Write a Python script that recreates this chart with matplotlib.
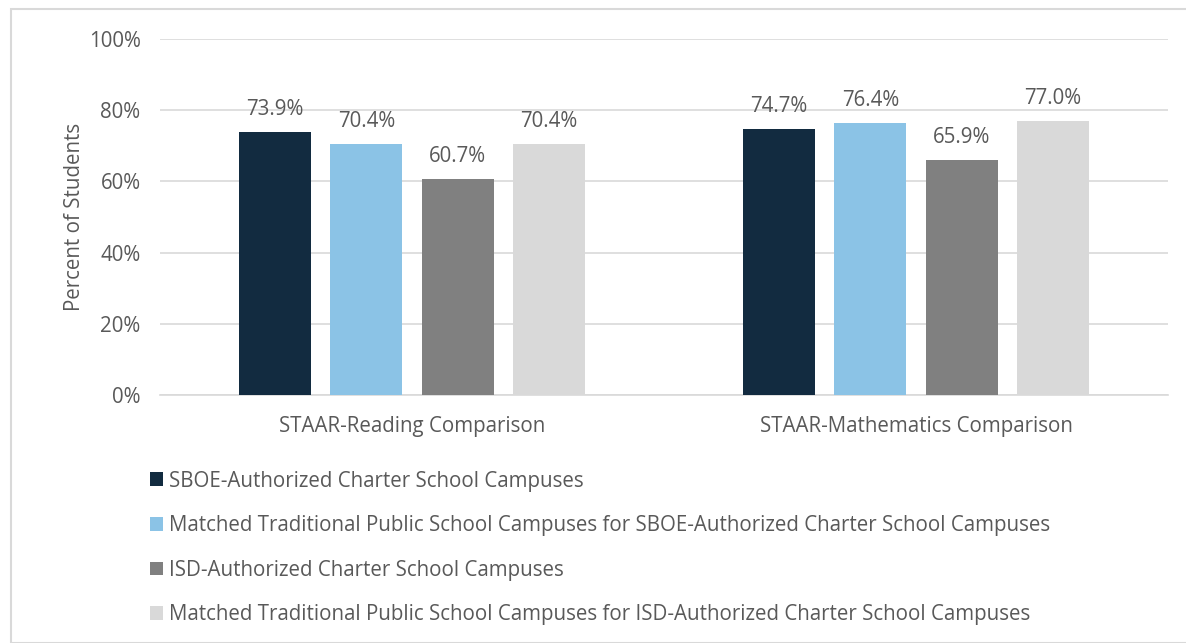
import matplotlib
matplotlib.use("Agg")
import matplotlib.pyplot as plt
from matplotlib.patches import Rectangle, Patch

categories = ["STAAR-Reading Comparison", "STAAR-Mathematics Comparison"]
series = [
    "SBOE-Authorized Charter School Campuses",
    "Matched Traditional Public School Campuses for SBOE-Authorized Charter School Campuses",
    "ISD-Authorized Charter School Campuses",
    "Matched Traditional Public School Campuses for ISD-Authorized Charter School Campuses",
]
sboe = [73.9, 74.7]
matched_sboe = [70.4, 76.4]
isd = [60.7, 65.9]
matched_isd = [70.4, 77.0]
values = [sboe, matched_sboe, isd, matched_isd]
colors = ["#122B40", "#8BC3E6", "#808080", "#D9D9D9"]
yticks = [0, 20, 40, 60, 80, 100]

plt.rcParams['font.family'] = ['Open Sans', 'DejaVu Sans']
txt = "#595959"
fs = 14.8

W, H = 1186, 643
fig = plt.figure(figsize=(W/100, H/100), dpi=100)
fig.patch.set_facecolor("white")
fig.patches.append(Rectangle((11/W, 0), 1.0, 1 - 9/H, transform=fig.transFigure,
                             fill=False, edgecolor="#D9D9D9", linewidth=1.5))

ax = fig.add_axes([160/W, 1 - 395/H, 1008/W, 356/H])
ax.set_xlim(-0.5, 1.5)
ax.set_ylim(0, 100)
width = 0.143
step = 0.181
for i, (vals, c) in enumerate(zip(values, colors)):
    xs = [k + (i - 1.5) * step for k in range(len(categories))]
    bars = ax.bar(xs, vals, width=width, color=c, zorder=3)
    for b, v in zip(bars, vals):
        ax.text(b.get_x() + b.get_width()/2, v + 3.4, f"{v:.1f}%", ha="center", va="bottom",
                fontsize=fs, color=txt)

ax.set_yticks(yticks)
ax.set_yticklabels([f"{t}%" for t in yticks], fontsize=fs, color=txt)
ax.set_xticks(range(len(categories)))
ax.set_xticklabels(categories, fontsize=fs, color=txt)
ax.tick_params(axis="both", length=0)
ax.tick_params(axis="y", pad=14)
ax.tick_params(axis="x", pad=15)
ax.grid(axis="y", color="#D9D9D9", linewidth=1.2, zorder=0)
for s in ["top", "right", "left"]:
    ax.spines[s].set_visible(False)
ax.spines["bottom"].set_color("#D9D9D9")
ax.spines["bottom"].set_linewidth(1.2)
ax.set_ylabel("Percent of Students", fontsize=fs, color=txt, labelpad=3)

handles = [Patch(facecolor=c, edgecolor="none") for c in colors]
fig.legend(handles, series, loc="upper left", bbox_to_anchor=(131/W, 1 - 452/H),
           frameon=False, fontsize=fs, labelcolor=txt, handlelength=0.65, handleheight=0.65,
           handletextpad=0.3, labelspacing=1.15)

fig.savefig("out.png", dpi=100)
